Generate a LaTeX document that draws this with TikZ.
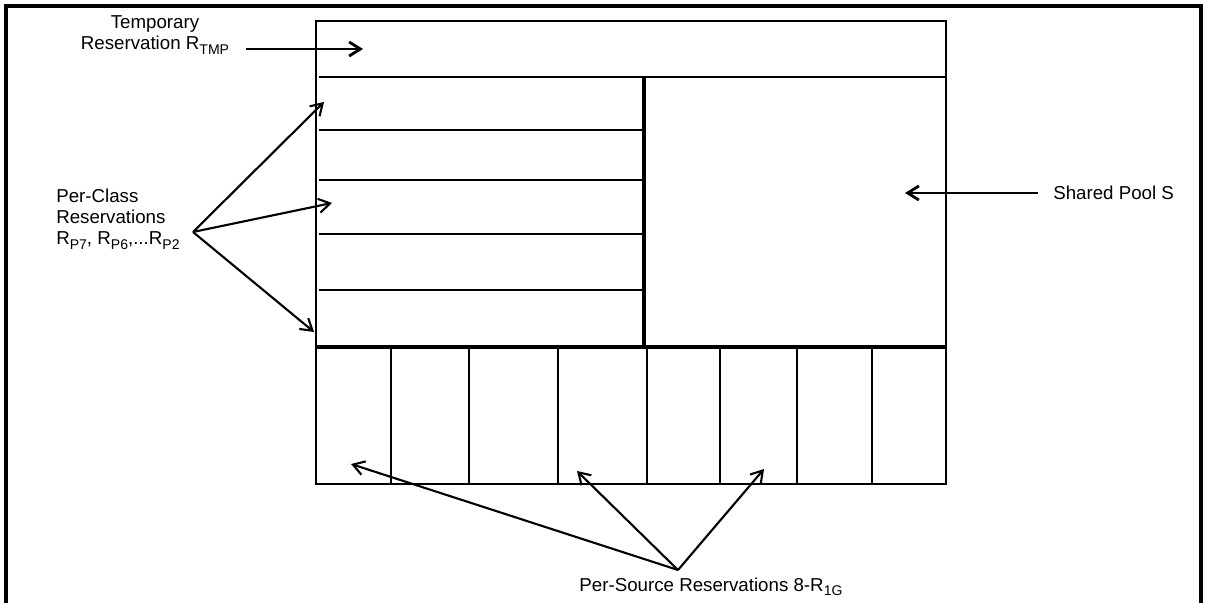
\documentclass[tikz,border=0pt]{standalone}
\usepackage{fontspec}
\setmainfont{Liberation Sans}
\usetikzlibrary{arrows.meta, positioning}

\newcommand{\lowtext}[1]{\raisebox{-0.45ex}{\fontsize{10}{10}\selectfont #1}}

\begin{document}
\begin{tikzpicture}[
    x=0.025cm,
    y=-0.025cm,
    thinline/.style={
        line width=1.5pt
    },
    thickline/.style={
        line width=2.9pt
    },
    arrow/.style={
        -{Straight Barb[length=8pt, width=10pt]},
        line width=1.5pt
    },
    label/.style={
        font=\fontsize{13.3}{15}\selectfont,
        inner sep=0pt
    }
]

\useasboundingbox (0,0) rectangle (1207,603);

% Outer frame (open at the bottom)
\draw[line width=2.2pt] (6,603) -- (6,6) -- (1201,6) -- (1201,603);

% Buffer box
\draw[thinline] (316,21) rectangle (946,484);
\draw[thinline] (319,77) -- (946,77);

% Per-class rows
\foreach \y in {130, 180, 234, 290} {
    \draw[thinline] (319,\y) -- (644,\y);
}
\draw[thickline] (644,77) -- (644,347);
\draw[thickline] (316,347) -- (946,347);

% Per-source cells
\foreach \x in {391, 469, 558, 647, 720, 797, 872} {
    \draw[thinline] (\x,348) -- (\x,484);
}

% Labels
\node[label, align=center] (tmp) at (155,35) {Temporary\\Reservation R\lowtext{TMP}};
\node[label, align=left, anchor=west] (perclass) at (56,219) {Per-Class\\Reservations\\R\lowtext{P7}, R\lowtext{P6},...R\lowtext{P2}};
\node[label, anchor=west] (shared) at (1053,193) {Shared Pool S};
\node[label] (persource) at (711,587) {Per-Source Reservations 8-R\lowtext{1G}};

% Arrow ends
\coordinate (tmpstart) at (246,49);
\coordinate (tmptip) at (363,49);
\coordinate (classfrom) at (193,232);
\coordinate (classtop) at (324,102);
\coordinate (classmid) at (332,203);
\coordinate (classbot) at (314,332);
\coordinate (sharedstart) at (1038,193);
\coordinate (sharedtip) at (905,193);
\coordinate (sourcefrom) at (678,570);
\coordinate (sourceleft) at (351,464);
\coordinate (sourcemid) at (577,471);
\coordinate (sourceright) at (764,469);

% Arrows
\draw[arrow, line width=2pt] (tmpstart) -- (tmptip);
\draw[arrow, line width=2pt] (sharedstart) -- (sharedtip);
\foreach \t in {classtop, classmid, classbot} {
    \draw[arrow] (classfrom) -- (\t);
}
\foreach \t in {sourceleft, sourcemid, sourceright} {
    \draw[arrow] (sourcefrom) -- (\t);
}

\end{tikzpicture}
\end{document}
